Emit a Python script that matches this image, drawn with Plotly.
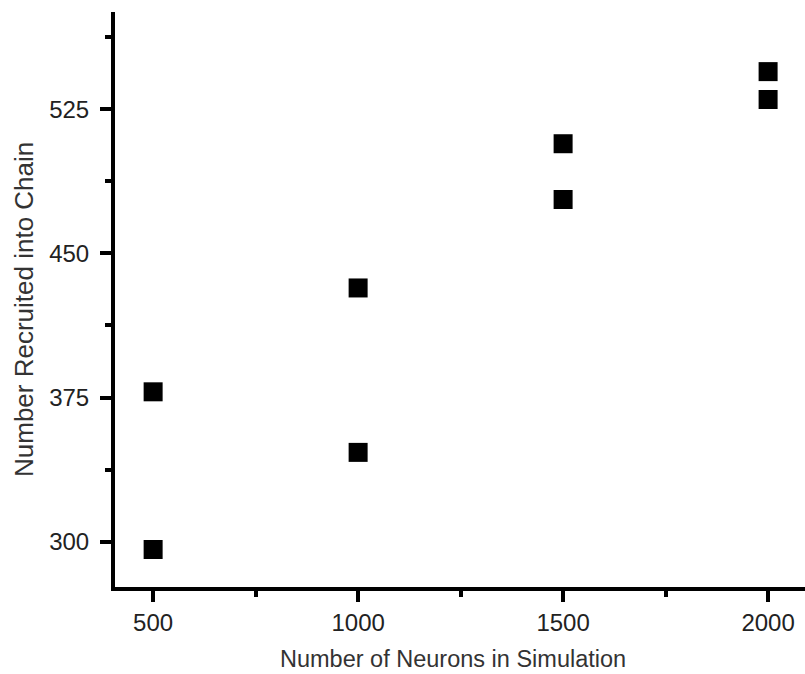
import plotly.graph_objects as go

neurons = [500, 500, 1000, 1000, 1500, 1500, 2000, 2000]
recruited = [296, 378, 346.5, 432, 478, 507, 530, 544.5]

x_ticks = [500, 1000, 1500, 2000]
y_ticks = [300, 375, 450, 525]

x_title = "Number of Neurons in Simulation"
y_title = "Number Recruited into Chain"

fig = go.Figure()
fig.add_trace(go.Scatter(
    x=neurons, y=recruited, mode="markers",
    marker=dict(symbol="square", size=19, color="black", line=dict(width=0)),
    showlegend=False,
))

font_family = "Liberation Sans, Arial, sans-serif"
fig.update_layout(
    width=805, height=674,
    margin=dict(l=115, r=0, t=12, b=87),
    paper_bgcolor="white", plot_bgcolor="white",
    font=dict(family=font_family, size=24, color="#222"),
)
fig.update_xaxes(
    range=[407, 2090], tickvals=x_ticks, ticktext=[str(v) for v in x_ticks],
    showline=True, linewidth=4, linecolor="black", showgrid=False, zeroline=False,
    ticks="outside", ticklen=11, tickwidth=4, tickcolor="black",
    minor=dict(tickvals=[750, 1250, 1750], ticks="outside", ticklen=6, tickwidth=4, tickcolor="black", showgrid=False),
    tickfont=dict(size=24, color="#222"),
)
fig.update_yaxes(
    range=[276.5, 575.5], tickvals=y_ticks, ticktext=[str(v) for v in y_ticks],
    showline=True, linewidth=4, linecolor="black", showgrid=False, zeroline=False,
    ticks="outside", ticklen=11, tickwidth=4, tickcolor="black",
    ticklabelstandoff=6,
    minor=dict(tickvals=[337.5, 412.5, 487.5, 562.5], ticks="outside", ticklen=6, tickwidth=4, tickcolor="black", showgrid=False),
    tickfont=dict(size=24, color="#222"),
)

# axis titles placed as annotations (pixel offsets relative to plot area)
fig.add_annotation(
    text=x_title, xref="paper", yref="paper", x=0, y=0,
    xshift=453 - 115, yshift=-(659 - 587), xanchor="center", yanchor="middle",
    showarrow=False, font=dict(size=23.5, color="#333"),
)
fig.add_annotation(
    text=y_title, xref="paper", yref="paper", x=0, y=(587 - 310) / 575,
    xshift=24 - 115, xanchor="center", yanchor="middle", textangle=-90,
    showarrow=False, font=dict(size=26, color="#333"),
)

fig.write_html("out.html")
